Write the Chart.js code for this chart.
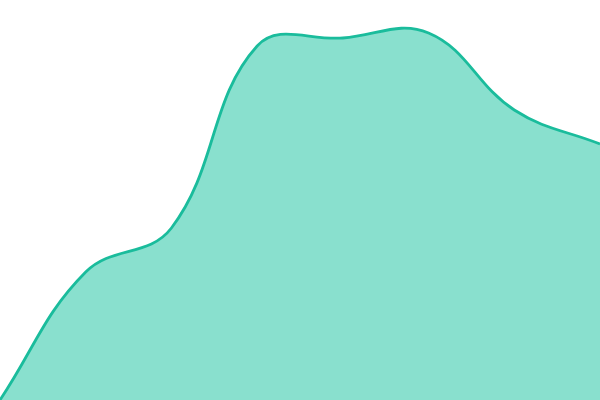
<!DOCTYPE html>
<html><head><meta charset="utf-8">
<script src="https://cdn.jsdelivr.net/npm/chart.js@4"></script>
<style>html,body{margin:0;padding:0;background:#fff}#w{width:600px;height:400px}</style>
</head><body><div id="w"><canvas id="c"></canvas></div>
<script>
const categories = ["1","2","3","4","5","6","7","8"];
const values = [0, 128, 172, 354, 362, 367, 290, 256];
new Chart(document.getElementById('c'), {
  type: 'line',
  data: { labels: categories, datasets: [{ data: values, fill: true, backgroundColor: '#89e0ce', borderColor: '#1abc9c', borderWidth: 2.8, tension: 0.4, pointRadius: 0 }] },
  options: {
    responsive: true, maintainAspectRatio: false, animation: false,
    layout: { padding: 0 },
    plugins: { legend: { display: false }, tooltip: { enabled: false } },
    scales: { x: { display: false }, y: { display: false, min: 0, max: 400 } }
  }
});
</script></body></html>
